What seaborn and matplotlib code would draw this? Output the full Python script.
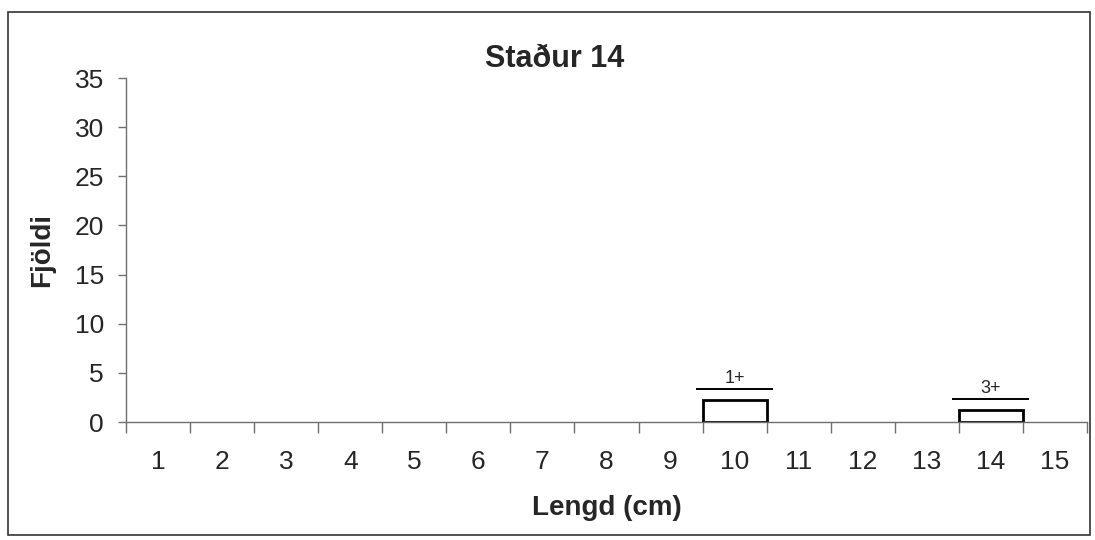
import numpy as np
import pandas as pd
import matplotlib
matplotlib.use("Agg")
import matplotlib.pyplot as plt
import seaborn as sns
from matplotlib.patches import Rectangle

# ---- data ----
lengths = [str(i) for i in range(1, 16)]
counts = [0, 0, 0, 0, 0, 0, 0, 0, 0, 2.2, 0, 0, 0, 1.2, 0]
age_groups = ["", "", "", "", "", "", "", "", "", "1+", "", "", "", "3+", ""]
title = "Staður 14"
xlabel = "Lengd (cm)"
ylabel = "Fjöldi"
yticks = [0, 5, 10, 15, 20, 25, 30, 35]

df = pd.DataFrame({"Lengd": lengths, "Fjoldi": counts, "Aldur": age_groups})

sns.set_style("white")
plt.rcParams["font.family"] = ["Liberation Sans", "DejaVu Sans"]

fig = plt.figure(figsize=(10.95, 5.4), dpi=100)
ax = fig.add_axes([126 / 1095, 1 - 422 / 540, (1087 - 126) / 1095, (422 - 78) / 540])

sns.barplot(data=df, x="Lengd", y="Fjoldi", order=lengths, color="white",
            edgecolor="black", linewidth=2, width=1.0, ax=ax, errorbar=None)
for p in ax.patches:
    if p.get_height() == 0:
        p.set_linewidth(0)

# age-group annotations
for i, (c, a) in enumerate(zip(counts, age_groups)):
    if a:
        ax.hlines(c + 1.15, i - 0.6, i + 0.6, color="black", linewidth=1.4)
        ax.text(i, c + 1.35, a, ha="center", va="bottom", fontsize=13)

ax.set_xlim(-0.5, len(lengths) - 0.5)
ax.set_ylim(0, 35)
ax.set_yticks(yticks)
ax.set_yticklabels([str(t) for t in yticks], fontsize=19)
ax.tick_params(axis="y", length=6, width=1, color="#707070", pad=10, direction="out", left=True)

ax.set_xticks(np.arange(-0.5, len(lengths), 1))
ax.set_xticklabels([])
ax.set_xticks(np.arange(len(lengths)), minor=True)
ax.set_xticklabels(lengths, minor=True, fontsize=19)
ax.tick_params(axis="x", which="major", length=8, width=1, color="#707070", direction="out", bottom=True)
ax.tick_params(axis="x", which="minor", length=0, pad=20)

for s in ["top", "right"]:
    ax.spines[s].set_visible(False)
for s in ["left", "bottom"]:
    ax.spines[s].set_color("#707070")
    ax.spines[s].set_linewidth(1)

ax.set_xlabel(xlabel, fontsize=20, fontweight="bold", labelpad=15)
ax.set_ylabel(ylabel, fontsize=20, fontweight="bold", labelpad=14)
fig.text(555 / 1095, 1 - 59 / 540, title, ha="center", va="center", fontsize=22, fontweight="bold")

fig.patches.append(Rectangle((8 / 1095, 1 - 535 / 540), (1090 - 8) / 1095, (535 - 12) / 540,
                             transform=fig.transFigure, fill=False, edgecolor="#333333", linewidth=1.2))

fig.savefig("out.png", dpi=100)
